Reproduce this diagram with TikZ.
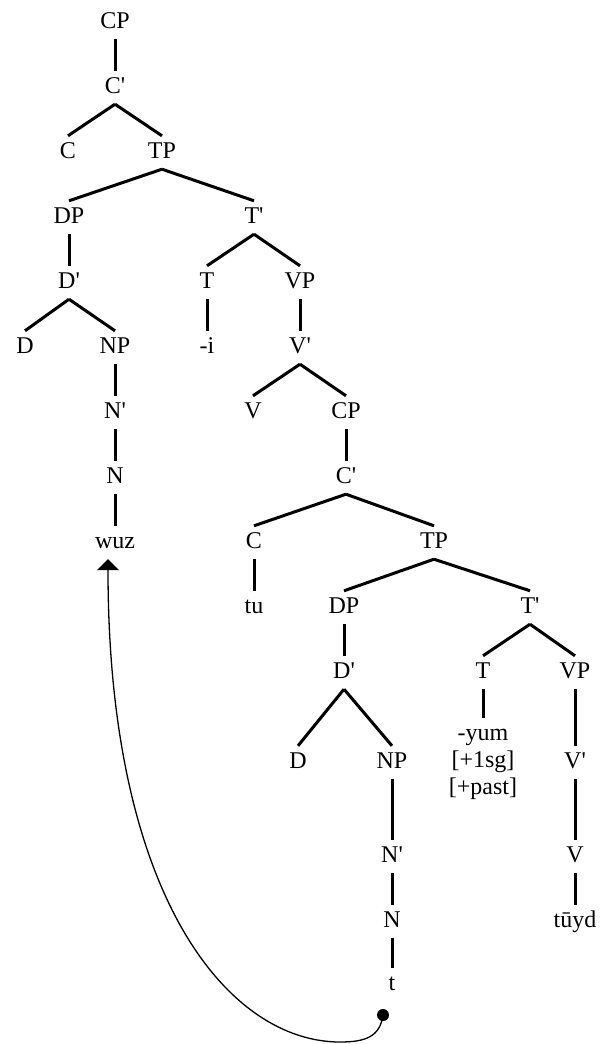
\documentclass[tikz,border=0pt]{standalone}
\usepackage{fontspec}
\setmainfont{Liberation Serif}
\usetikzlibrary{arrows.meta}
\newcommand{\prm}{\textquotesingle}
\tikzset{
  txt/.style={font=\fontsize{24}{27}\selectfont},
  lbl/.style={txt, anchor=base, inner xsep=2pt, inner ysep=6pt, text height=16pt, text depth=5pt},
  branch/.style={line width=3pt},
  move/.style={line width=1.3pt, -{Triangle[width=22pt,length=11pt]}},
}
\begin{document}
\begin{tikzpicture}[x=1pt,y=-1pt]
\useasboundingbox (0,0) rectangle (605,1044);
% matrix clause
\node[lbl] (cp) at (115,28) {CP};
\node[lbl] (cbar) at (115,93) {C\prm};
\node[lbl] (c) at (68,158) {C};
\node[lbl] (tp) at (162,158) {TP};
\node[lbl] (dp) at (69,223) {DP};
\node[lbl] (tbar) at (254,223) {T\prm};
\node[lbl] (dbar) at (69,288) {D\prm};
\node[lbl] (t) at (207,288) {T};
\node[lbl] (vp) at (300,288) {VP};
\node[lbl] (d) at (25,353) {D};
\node[lbl] (np) at (115,353) {NP};
\node[lbl] (ti) at (207,353) {-i};
\node[lbl] (vbar) at (300,353) {V\prm};
\node[lbl] (nbar) at (115,418) {N\prm};
\node[lbl] (v) at (253,418) {V};
\node[lbl] (cpb) at (346,418) {CP};
\node[lbl] (n) at (115,483) {N};
\node[lbl] (cbarb) at (346,483) {C\prm};
\node[lbl] (wuz) at (115,548) {wuz};
% embedded clause
\node[lbl] (cb) at (254,548) {C};
\node[lbl] (tpb) at (434,548) {TP};
\node[lbl] (tu) at (254,613) {tu};
\node[lbl] (dpb) at (344,613) {DP};
\node[lbl] (tbarb) at (530,613) {T\prm};
\node[lbl] (dbarb) at (344,678) {D\prm};
\node[lbl] (tb) at (483,678) {T};
\node[lbl] (vpb) at (575,678) {VP};
\node[txt, align=center, anchor=north, inner sep=6pt] (yum) at (483,718)
  {\rule{0pt}{16pt}-yum\\{[+1sg]}\\{[+past]}};
\node[lbl] (db) at (298,768) {D};
\node[lbl] (npb) at (392,768) {NP};
\node[lbl] (vbarb) at (575,768) {V\prm};
\node[lbl] (nbarb) at (392,862) {N\prm};
\node[lbl] (vb) at (575,862) {V};
\node[lbl] (nb) at (392,927) {N};
\node[lbl] (tuyd) at (575,927) {tūyd};
\node[lbl] (tr) at (392,990) {t};
% branches
\foreach \p/\c in {cp/cbar, cbar/c, cbar/tp, tp/dp, tp/tbar, dp/dbar, dbar/d,
    dbar/np, tbar/t, tbar/vp, t/ti, vp/vbar, np/nbar, nbar/n, n/wuz, vbar/v,
    vbar/cpb, cpb/cbarb, cbarb/cb, cbarb/tpb, cb/tu, tpb/dpb, tpb/tbarb,
    dpb/dbarb, dbarb/db, dbarb/npb, tbarb/tb, tbarb/vpb, tb/yum, vpb/vbarb,
    npb/nbarb, nbarb/nb, nb/tr, vbarb/vb, vb/tuyd}
  \draw[branch] (\p.south) -- (\c.north);
% movement
\node[circle, fill, inner sep=0pt, minimum size=12pt] (gap) at (383,1015) {};
\coordinate (bend) at (340,1042);
\draw[move] (gap.center) .. controls (380,1037) and (365,1042) .. (bend)
  .. controls (230,1042) and (108,900) .. ([xshift=-7pt]wuz.south);
\end{tikzpicture}
\end{document}
